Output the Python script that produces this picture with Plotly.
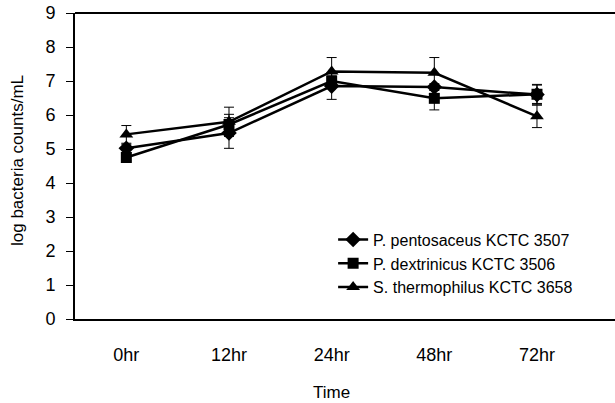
import plotly.graph_objects as go

# Sampling times and log counts (mean, error) per strain
times = ["0hr", "12hr", "24hr", "48hr", "72hr"]

pentosaceus = [5.02, 5.47, 6.85, 6.82, 6.60]
pentosaceus_err = [0.12, 0.45, 0.39, 0.10, 0.30]

dextrinicus = [4.75, 5.72, 7.00, 6.49, 6.61]
dextrinicus_err = [0.10, 0.30, 0.15, 0.34, 0.27]

thermophilus = [5.43, 5.80, 7.28, 7.24, 5.96]
thermophilus_err = [0.26, 0.43, 0.41, 0.45, 0.33]

y_ticks = list(range(0, 10))

series = [
    ("P. pentosaceus KCTC 3507", pentosaceus, pentosaceus_err, "diamond", 12),
    ("P. dextrinicus KCTC 3506", dextrinicus, dextrinicus_err, "square", 11),
    ("S. thermophilus KCTC 3658", thermophilus, thermophilus_err, "triangle-up", 12),
]

xpos = list(range(len(times)))

fig = go.Figure()
for name, vals, errs, sym, size in series:
    fig.add_trace(go.Scatter(
        x=xpos, y=vals, name=name, mode="lines+markers",
        line=dict(color="black", width=2.5),
        marker=dict(symbol=sym, size=size, color="black"),
        error_y=dict(type="data", array=errs, visible=True,
                     color="black", thickness=1, width=5),
    ))

font = "Liberation Sans, Arial, sans-serif"

fig.update_layout(
    width=615, height=403,
    margin=dict(l=75, r=0, t=13, b=84),
    paper_bgcolor="white", plot_bgcolor="white",
    font=dict(family=font, size=17, color="black"),
    showlegend=True,
    legend=dict(x=0.478, y=0.315, xanchor="left", yanchor="top",
                bgcolor="rgba(0,0,0,0)", font=dict(size=16),
                itemwidth=30, tracegroupgap=0),
    xaxis=dict(range=[-0.5, 4.76], tickmode="array", tickvals=xpos,
               ticktext=times, showgrid=False, zeroline=False,
               showline=True, linecolor="black", linewidth=2,
               ticks="", ticklabelstandoff=18, tickfont=dict(size=18)),
    yaxis=dict(range=[0, 9], tickmode="array", tickvals=y_ticks,
               showgrid=False, zeroline=False, showline=True,
               linecolor="black", linewidth=2, ticks="outside",
               ticklen=7, tickwidth=1, tickcolor="black",
               ticklabelstandoff=7, tickfont=dict(size=18)),
    shapes=[dict(type="line", xref="paper", yref="paper", x0=0, x1=1,
                 y0=1, y1=1, line=dict(color="black", width=2))],
    annotations=[
        dict(text="Time", xref="paper", yref="paper", x=(331 - 75) / 540,
             y=0, yshift=-73, showarrow=False, xanchor="center",
             yanchor="middle", font=dict(size=17)),
        dict(text="log bacteria counts/mL", xref="paper", yref="paper",
             x=0, xshift=-58, y=0.5, yshift=5, showarrow=False,
             textangle=-90, xanchor="center", yanchor="middle",
             font=dict(size=17)),
    ],
)

fig.write_html("out.html")
